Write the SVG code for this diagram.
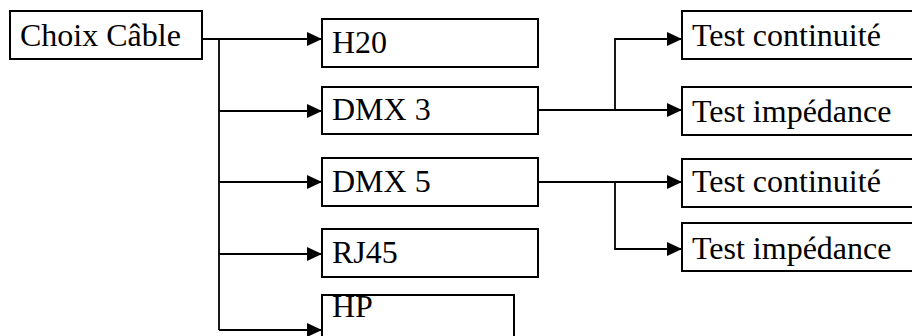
<svg xmlns="http://www.w3.org/2000/svg" width="912" height="336" viewBox="0 0 912 336">
<style>
.box{fill:#fff;stroke:#000;stroke-width:2}
.lbl{font-family:"Liberation Serif","Times New Roman",serif;font-size:32px;fill:#000}
.con{fill:none;stroke:#000;stroke-width:1.8}
.arr{marker-end:url(#ah)}
</style>
<defs>
<marker id="ah" markerUnits="userSpaceOnUse" markerWidth="17" markerHeight="15" refX="16" refY="7.5" orient="auto">
<path d="M1,0.5 L16,7.5 L1,14.5 Z" fill="#000"/>
</marker>
</defs>
<rect width="912" height="336" fill="#fff"/>
<g id="connectors">
<path class="con arr" d="M202,39 H322"/>
<path class="con" d="M219,39 V330"/>
<path class="con arr" d="M219,111 H322"/>
<path class="con arr" d="M219,182 H322"/>
<path class="con arr" d="M219,254 H322"/>
<path class="con arr" d="M219,330 H322"/>
<path class="con arr" d="M538,110 H682"/>
<path class="con arr" d="M615,110 V39 H682"/>
<path class="con arr" d="M538,182 H682"/>
<path class="con arr" d="M615,182 V249 H682"/>
</g>
<g id="choix"><rect class="box" x="10" y="11" width="192" height="48"/><text class="lbl" x="20" y="46">Choix Câble</text></g>
<g id="h20"><rect class="box" x="322" y="19" width="216" height="48"/><text class="lbl" x="332" y="53">H20</text></g>
<g id="dmx3"><rect class="box" x="322" y="87" width="216" height="47"/><text class="lbl" x="332" y="120">DMX 3</text></g>
<g id="dmx5"><rect class="box" x="322" y="158" width="216" height="48"/><text class="lbl" x="332" y="192">DMX 5</text></g>
<g id="rj45"><rect class="box" x="322" y="229" width="216" height="48"/><text class="lbl" x="332" y="263">RJ45</text></g>
<g id="hp"><rect class="box" x="322" y="295" width="192" height="48"/><text class="lbl" x="332" y="317">HP</text></g>
<g id="test1"><rect class="box" x="682" y="11" width="250" height="48"/><text class="lbl" x="692" y="46">Test continuité</text></g>
<g id="test2"><rect class="box" x="682" y="87" width="250" height="48"/><text class="lbl" x="692" y="122">Test impédance</text></g>
<g id="test3"><rect class="box" x="682" y="159" width="250" height="48"/><text class="lbl" x="692" y="192">Test continuité</text></g>
<g id="test4"><rect class="box" x="682" y="223" width="250" height="48"/><text class="lbl" x="692" y="259">Test impédance</text></g>
</svg>
